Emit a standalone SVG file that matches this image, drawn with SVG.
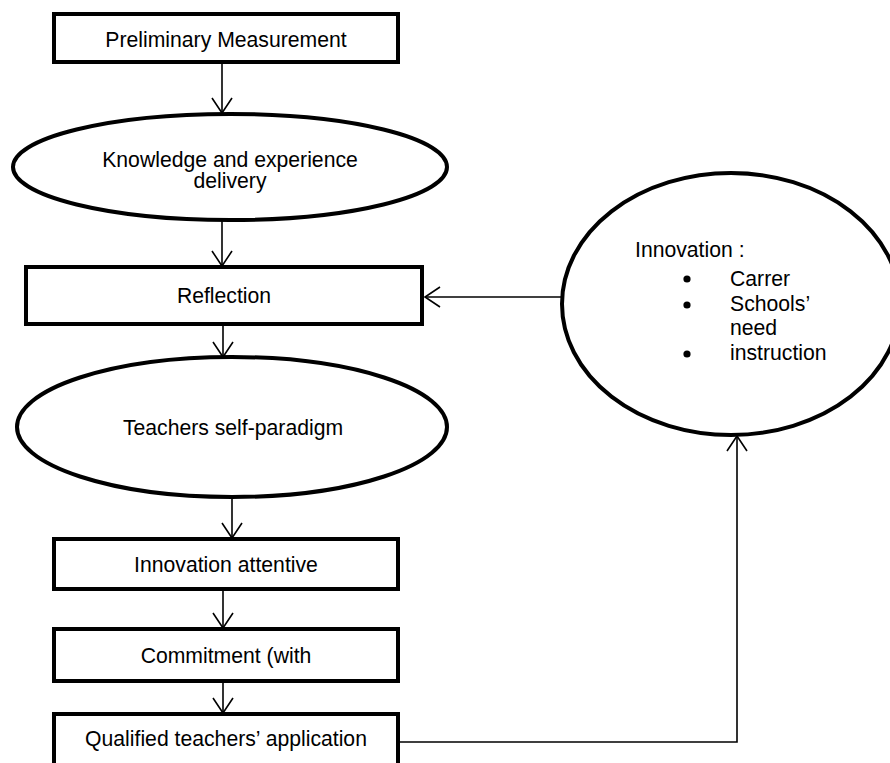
<svg xmlns="http://www.w3.org/2000/svg" width="890" height="763" viewBox="0 0 890 763">
<defs>
<style>
.box{fill:#fff;stroke:#000;stroke-width:4}
.ell{fill:#fff;stroke:#000;stroke-width:4}
.t{font-family:"Liberation Sans",Arial,sans-serif;font-size:21.2px;fill:#000}
.c{text-anchor:middle}
.con{fill:none;stroke:#000;stroke-width:1.6}
</style>
<marker id="ah" markerUnits="userSpaceOnUse" markerWidth="20" markerHeight="24" refX="16" refY="10" orient="auto" viewBox="0 0 20 20" overflow="visible">
<path d="M1,0 L16,10 L1,20" fill="none" stroke="#000" stroke-width="1.6"/>
</marker>
</defs>
<rect width="890" height="763" fill="#fff"/>
<g id="n1"><rect class="box" x="54" y="14" width="344" height="48"/><text class="t c" x="226" y="47">Preliminary Measurement</text></g>
<g id="n2"><ellipse class="ell" cx="230" cy="167" rx="217" ry="53"/><text class="t c" x="230" y="167">Knowledge and experience</text><text class="t c" x="230" y="188">delivery</text></g>
<g id="n3"><rect class="box" x="26" y="267" width="396" height="57"/><text class="t c" x="224" y="303">Reflection</text></g>
<g id="n4"><ellipse class="ell" cx="232" cy="427" rx="215" ry="70"/><text class="t c" x="233" y="435">Teachers self-paradigm</text></g>
<g id="n5"><rect class="box" x="54" y="539" width="344" height="50"/><text class="t c" x="226" y="572">Innovation attentive</text></g>
<g id="n6"><rect class="box" x="54" y="629" width="344" height="52"/><text class="t c" x="226" y="663">Commitment (with</text></g>
<g id="n7"><rect class="box" x="54" y="714" width="344" height="70"/><text class="t c" x="226" y="746">Qualified teachers’ application</text></g>
<g id="n8"><ellipse class="ell" cx="731" cy="304" rx="169" ry="131"/>
<text class="t" x="635" y="257">Innovation :</text>
<circle cx="687" cy="279" r="3.6"/><text class="t" x="730" y="286">Carrer</text>
<circle cx="687" cy="305" r="3.6"/><text class="t" x="730" y="311">Schools’</text>
<text class="t" x="730" y="335">need</text>
<circle cx="687" cy="354" r="3.6"/><text class="t" x="730" y="360">instruction</text>
</g>
<g id="connectors">
<path class="con" d="M222,62 V113" marker-end="url(#ah)"/>
<path class="con" d="M222,220 V266" marker-end="url(#ah)"/>
<path class="con" d="M223,324 V357" marker-end="url(#ah)"/>
<path class="con" d="M232,497 V538" marker-end="url(#ah)"/>
<path class="con" d="M223,589 V628" marker-end="url(#ah)"/>
<path class="con" d="M223,681 V713" marker-end="url(#ah)"/>
<path class="con" d="M398,742 H737 V436" marker-end="url(#ah)"/>
<path class="con" d="M562,297 H425" marker-end="url(#ah)"/>
</g>
</svg>
